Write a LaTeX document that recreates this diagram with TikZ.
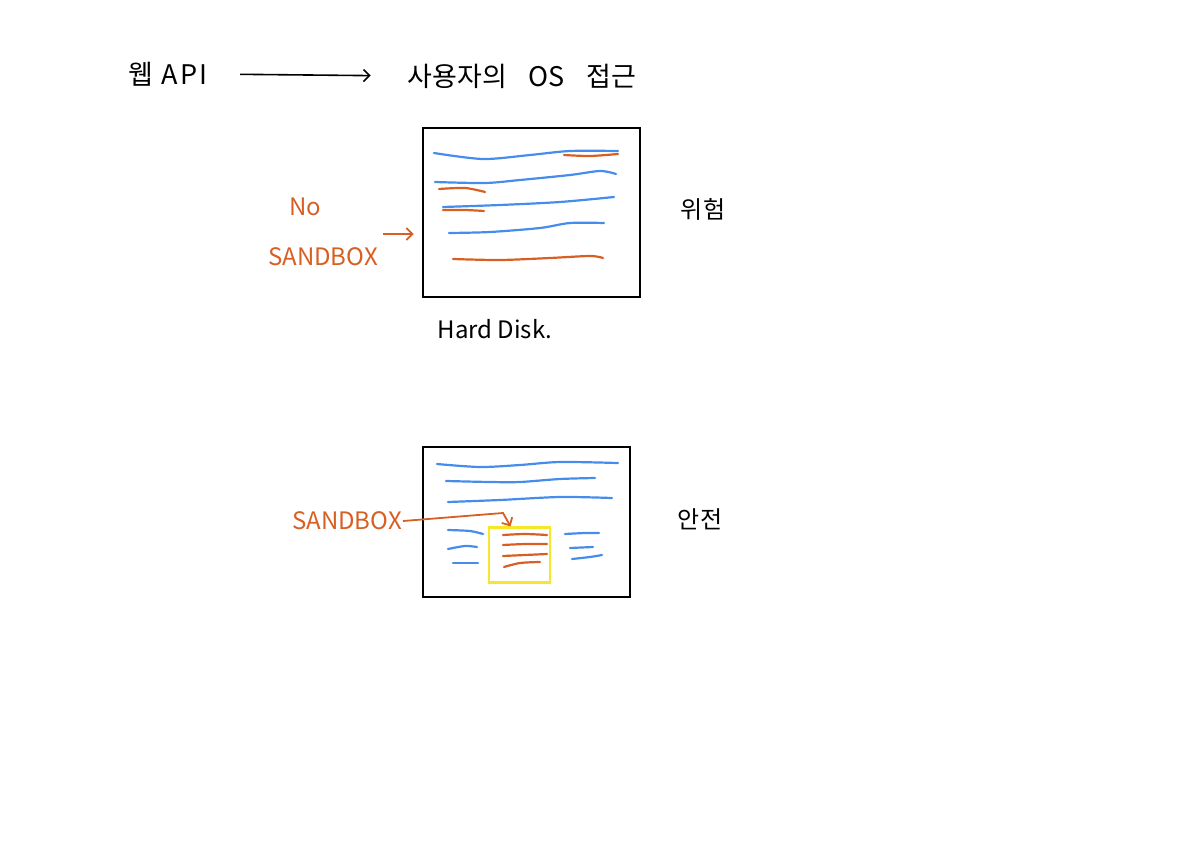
\documentclass[tikz,border=0pt]{standalone}
\usepackage{fontspec}
\setmainfont{Noto Sans CJK KR}
\usepackage{tikz}
\usetikzlibrary{arrows.meta}
\definecolor{sketchblue}{RGB}{70,140,235}
\definecolor{sketchorange}{RGB}{215,95,35}
\definecolor{sketchyellow}{RGB}{245,232,40}
\tikzset{
  handtext/.style={font=\fontsize{24}{28}\selectfont, inner sep=1pt},
  titletext/.style={font=\fontsize{27}{32}\selectfont, inner sep=0pt},
  disk/.style={draw=black, line width=2.6pt, inner sep=0pt},
  blueline/.style={sketchblue, line width=2.2pt, line cap=round},
  orangeline/.style={sketchorange, line width=2.2pt, line cap=round},
  orangearrow/.style={sketchorange, line width=1.8pt, -{Straight Barb[length=6pt]}}
}

\begin{document}
\begin{tikzpicture}[x=1pt, y=-1pt]
  \useasboundingbox (0,0) rectangle (1190,845);

  % === TITLE ===
  \node[titletext] (webapi) at (168,74) {웹\hspace{0.3em}A\hspace{0.1em}P\hspace{0.1em}I};
  \node[titletext] (osaccess) at (522,76) {사용자의\hspace{0.8em}OS\hspace{0.8em}접근};
  \draw[line width=1.6pt, -{Straight Barb[length=6pt]}, shorten <=32pt, shorten >=37pt]
    (webapi.east) -- (osaccess.west);

  % === NO SANDBOX ===
  \node[disk, minimum width=217pt, minimum height=169pt] (disk1) at (531.5,212.5) {};
  \node[handtext] (harddisk) at (495,329) {Hard Disk.};
  \node[handtext] (danger) at (703,209) {위험};
  \node[handtext, sketchorange] (nolabel) at (305,207) {No};
  \node[handtext, sketchorange] (sbox1) at (323,257) {SANDBOX};
  \coordinate (nsfrom) at (383,234);
  \draw[orangearrow, shorten >=8pt] (nsfrom) -- (disk1.west |- nsfrom);

  % lines on the disk
  \draw[blueline] plot[smooth] coordinates {(434,153) (483,159) (530,155) (570,151) (618,151)};
  \draw[orangeline] plot[smooth] coordinates {(564,155) (590,156) (618,154)};
  \draw[blueline] plot[smooth] coordinates {(435,182) (485,183) (520,180) (570,175) (600,171) (616,174)};
  \draw[orangeline] plot[smooth] coordinates {(439,189) (465,188) (485,192)};
  \draw[blueline] plot[smooth] coordinates {(443,207) (500,205) (560,202) (614,197)};
  \draw[orangeline] plot[smooth] coordinates {(443,210) (465,210) (484,211)};
  \draw[blueline] plot[smooth] coordinates {(449,233) (490,232) (540,228) (570,223) (604,223)};
  \draw[orangeline] plot[smooth] coordinates {(453,259) (500,260) (550,258) (590,256) (603,258)};

  % === SANDBOX ===
  \node[disk, minimum width=207pt, minimum height=150pt] (disk2) at (526.5,522) {};
  \node[handtext] (safe) at (700,519) {안전};
  \node[draw=sketchyellow, line width=2.2pt, minimum width=61pt, minimum height=55pt,
    inner sep=0pt] (sandbox) at (519.5,555) {};
  \node[handtext, sketchorange] (sbox2) at (347,521) {SANDBOX};
  \draw[orangearrow] (sbox2.east) -- ++(100,-8) -- ([xshift=-9pt]sandbox.north);

  % lines outside the sandbox
  \draw[blueline] plot[smooth] coordinates {(437,464) (480,467) (520,465) (560,462) (618,463)};
  \draw[blueline] plot[smooth] coordinates {(446,481) (490,482) (520,482) (560,479) (595,478)};
  \draw[blueline] plot[smooth] coordinates {(448,502) (500,500) (560,497) (612,498)};
  \draw[blueline] plot[smooth] coordinates {(448,530) (470,531) (483,534)};
  \draw[blueline] plot[smooth] coordinates {(448,549) (465,546) (477,547)};
  \draw[blueline] plot[smooth] coordinates {(453,563) (478,563)};
  \draw[blueline] plot[smooth] coordinates {(565,534) (585,533) (599,533)};
  \draw[blueline] plot[smooth] coordinates {(570,548) (593,547)};
  \draw[blueline] plot[smooth] coordinates {(572,559) (590,557) (602,555)};
  % lines inside the sandbox
  \draw[orangeline] plot[smooth] coordinates {(503,535) (525,534) (547,535)};
  \draw[orangeline] plot[smooth] coordinates {(503,545) (525,544) (547,544)};
  \draw[orangeline] plot[smooth] coordinates {(503,556) (525,555) (547,554)};
  \draw[orangeline] plot[smooth] coordinates {(504,567) (520,563) (540,562)};
\end{tikzpicture}
\end{document}
